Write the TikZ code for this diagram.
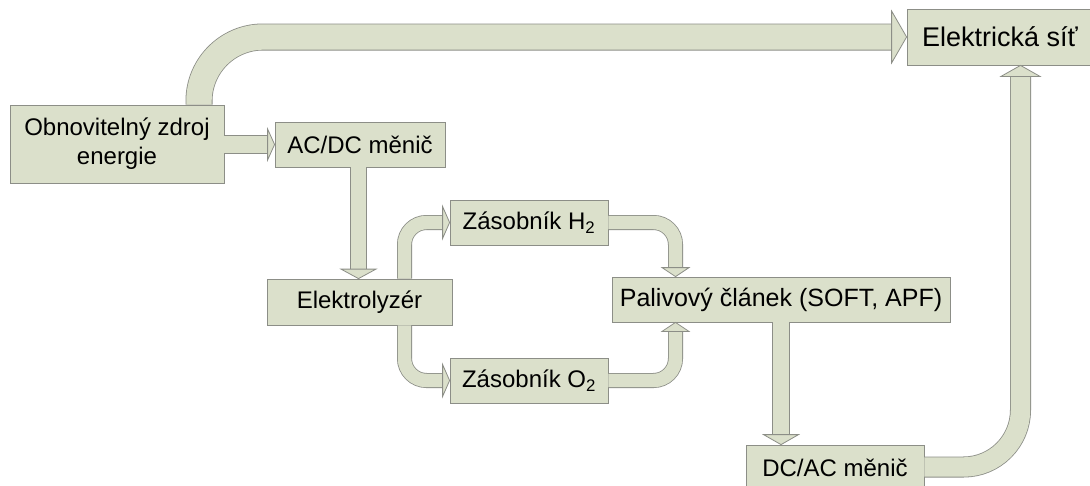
\documentclass[tikz,border=0pt]{standalone}
\usepackage{fontspec}
\setmainfont{Liberation Sans}
\usetikzlibrary{calc}

\definecolor{boxfill}{RGB}{219,224,203}
\definecolor{edgegray}{RGB}{140,142,135}

\tikzset{
  block/.style={draw=edgegray, line width=0.8pt, fill=boxfill, inner sep=0pt,
    font=\fontsize{24}{29}\selectfont, align=center, text=black},
  shaft/.style={draw=edgegray, line width=0.8pt, double=boxfill, double distance=#1},
  tiphead/.style={draw=edgegray, line width=0.8pt, fill=boxfill, line join=miter}
}

% arrow heads: tip point, half width, length
\newcommand\headRight[3]{\filldraw[tiphead] (#1) -- ++(-#3,#2) -- ++(0,-2*#2) -- cycle;}
\newcommand\headDown[3]{\filldraw[tiphead] (#1) -- ++(-#2,-#3) -- ++(2*#2,0) -- cycle;}
\newcommand\headUp[3]{\filldraw[tiphead] (#1) -- ++(-#2,#3) -- ++(2*#2,0) -- cycle;}

\begin{document}
\begin{tikzpicture}[x=1pt, y=-1pt]
\clip (0,0) rectangle (1090,485);
\fill[white] (0,0) rectangle (1090,485);

% blocks
\node[block, minimum width=214pt, minimum height=78pt] (src) at (117,144) {Obnovitelný zdroj\\energie};
\node[block, minimum width=170pt, minimum height=45pt] (acdc) at (360,144.5) {AC/DC měnič};
\node[block, minimum width=185pt, minimum height=46pt] (elz) at (359.5,302) {Elektrolyzér};
\node[block, minimum width=158pt, minimum height=45pt] (h2) at (529,222.5) {Zásobník H\textsubscript{2}};
\node[block, minimum width=158pt, minimum height=45pt] (o2) at (529,380.5) {Zásobník O\textsubscript{2}};
\node[block, minimum width=338pt, minimum height=45pt, font=\fontsize{25}{29}\selectfont] (fc) at (781,299.5) {Palivový článek (SOFT, APF)};
\node[block, minimum width=178pt, minimum height=46pt] (dcac) at (835,468) {DC/AC měnič};
\node[block, minimum width=186pt, minimum height=56pt, font=\fontsize{27}{31}\selectfont] (grid) at (1000,37) {Elektrická síť};

% source -> grid (top bypass)
\draw[shaft=25.4pt, rounded corners=64pt] (199,0 |- src.north) |- ($(grid.west)+(-14,0)$);
\headRight{grid.west}{26}{15}

% source -> AC/DC
\draw[shaft=17.4pt] (src.east |- acdc.west) -- ($(acdc.west)+(-6,0)$);
\headRight{acdc.west}{15.5}{7}

% AC/DC -> electrolyser
\draw[shaft=15.4pt] (358.5,0 |- acdc.south) -- ($(358.5,0 |- elz.north)+(0,-9)$);
\headDown{358.5,0 |- elz.north}{17.5}{9.5}

% electrolyser -> tanks
\draw[shaft=13.4pt, rounded corners=22pt] (404.5,0 |- elz.north) |- ($(h2.west)+(-6,0)$);
\headRight{h2.west}{16}{7}
\draw[shaft=13.4pt, rounded corners=22pt] (404.5,0 |- elz.south) |- ($(o2.west)+(-6,0)$);
\headRight{o2.west}{16}{7}

% tanks -> fuel cell
\draw[shaft=13.4pt, rounded corners=22pt] (h2.east) -| ($(675.5,0 |- fc.north)+(0,-8)$);
\headDown{675.5,0 |- fc.north}{13.5}{9}
\draw[shaft=13.4pt, rounded corners=22pt] (o2.east) -| ($(675.5,0 |- fc.south)+(0,8)$);
\headUp{675.5,0 |- fc.south}{13.5}{9}

% fuel cell -> DC/AC
\draw[shaft=16.4pt] (fc.south) -- ($(fc.south |- dcac.north)+(0,-9)$);
\headDown{fc.south |- dcac.north}{17.5}{10}

% DC/AC -> grid
\draw[shaft=19.4pt, rounded corners=57pt] (dcac.east |- 0,467) -| ($(1020.5,0 |- grid.south)+(0,10)$);
\headUp{1020.5,0 |- grid.south}{19.5}{11}
\end{tikzpicture}
\end{document}
